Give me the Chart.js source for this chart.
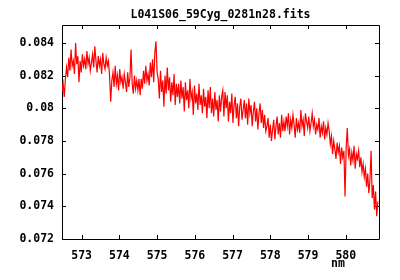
<!DOCTYPE html>
<html>
<head>
<meta charset="utf-8">
<script src="https://cdn.jsdelivr.net/npm/chart.js@4.4.1/dist/chart.umd.min.js"></script>
<style>
html,body{margin:0;padding:0;background:#fff;}
#wrap{width:400px;height:280px;position:relative;}
</style>
</head>
<body>
<div id="wrap"><canvas id="c" width="400" height="280"></canvas></div>
<script>
const TITLE = 'L041S06_59Cyg_0281n28.fits';
const X_LABEL = 'nm';
const WAVE_START = 572.48;
const WAVE_STEP = 0.03;
const X_MIN = 572.48, X_MAX = 580.88;
const Y_MIN = 0.072, Y_MAX = 0.0851;
const X_TICKS = [573, 574, 575, 576, 577, 578, 579, 580];
const X_TICK_LABELS = ['573', '574', '575', '576', '577', '578', '579', '580'];
const Y_TICKS = [0.072, 0.074, 0.076, 0.078, 0.080, 0.082, 0.084];
const Y_TICK_LABELS = ['0.072', '0.074', '0.076', '0.078', '0.08', '0.082', '0.084'];

const FLUX = [
  0.0810, 0.0815, 0.0807, 0.0818,
  0.0825, 0.0819, 0.0831, 0.0823, 0.0836, 0.0826, 0.0829, 0.0821, 0.0840, 0.0827, 0.0832, 0.0816,
  0.0829, 0.0822, 0.0833, 0.0826, 0.0830, 0.0824, 0.0835, 0.0827, 0.0831, 0.0823, 0.0828, 0.0833, 0.0825, 0.0838, 0.0829, 0.0822, 0.0832, 0.0826, 0.0830, 0.0821, 0.0834, 0.0827, 0.0824, 0.0831, 0.0826, 0.0829, 0.0820,
  0.0804, 0.0817, 0.0822, 0.0813, 0.0826, 0.0815, 0.0820, 0.0811, 0.0824, 0.0816, 0.0819, 0.0812, 0.0821,
  0.0816, 0.0810, 0.0822, 0.0813, 0.0819, 0.0836, 0.0815, 0.0809, 0.0820, 0.0812, 0.0817, 0.0811, 0.0818, 0.0808,
  0.0818, 0.0812, 0.0823, 0.0815, 0.0826, 0.0817, 0.0821, 0.0814, 0.0828, 0.0819, 0.0830, 0.0816, 0.0834, 0.0841, 0.0822,
  0.0818, 0.0806, 0.0823, 0.0810, 0.0817, 0.0801, 0.0820, 0.0809, 0.0825, 0.0811, 0.0819, 0.0804, 0.0816, 0.0808, 0.0821, 0.0802, 0.0815, 0.0807,
  0.0815, 0.0803, 0.0817, 0.0806, 0.0813, 0.0798, 0.0816, 0.0805, 0.0811, 0.0800, 0.0818, 0.0806, 0.0810, 0.0796, 0.0814, 0.0803, 0.0809, 0.0799, 0.0815, 0.0802, 0.0808, 0.0797, 0.0812, 0.0801, 0.0807, 0.0794, 0.0811, 0.0800, 0.0813, 0.0797, 0.0806, 0.0795, 0.0810, 0.0799, 0.0805, 0.0792, 0.0808, 0.0798,
  0.0807, 0.0811, 0.0795, 0.0810, 0.0800, 0.0808, 0.0792, 0.0804, 0.0797, 0.0809, 0.0791, 0.0802, 0.0807, 0.0794, 0.0803, 0.0789, 0.0801, 0.0806, 0.0793, 0.0799,
  0.0805, 0.0794, 0.0803, 0.0790, 0.0806, 0.0797, 0.0802, 0.0789, 0.0798, 0.0804, 0.0792, 0.0800, 0.0787, 0.0797, 0.0803, 0.0791, 0.0799, 0.0788, 0.0796, 0.0786,
  0.0789, 0.0794, 0.0782, 0.0790, 0.0780, 0.0787, 0.0793, 0.0781, 0.0789, 0.0795, 0.0784, 0.0791, 0.0782, 0.0796, 0.0786,
  0.0792, 0.0786, 0.0795, 0.0789, 0.0797, 0.0784, 0.0793, 0.0788, 0.0796, 0.0790, 0.0782, 0.0794, 0.0787, 0.0791, 0.0785, 0.0799, 0.0789, 0.0793, 0.0783, 0.0797,
  0.0792, 0.0788, 0.0795, 0.0786, 0.0791, 0.0797, 0.0789, 0.0793, 0.0784, 0.0790, 0.0787, 0.0794, 0.0782, 0.0789, 0.0785, 0.0792, 0.0781, 0.0788, 0.0784, 0.0791,
  0.0786, 0.0778, 0.0783, 0.0772, 0.0780, 0.0775, 0.0769, 0.0779, 0.0773, 0.0777, 0.0766, 0.0776, 0.0770, 0.0774, 0.0746,
  0.0776, 0.0788, 0.0771, 0.0775, 0.0765, 0.0773, 0.0768, 0.0777, 0.0763, 0.0772, 0.0769, 0.0774, 0.0764, 0.0770, 0.0761,
  0.0766, 0.0758, 0.0763, 0.0752, 0.0760, 0.0748, 0.0756, 0.0774, 0.0745, 0.0753, 0.0738, 0.0749, 0.0734, 0.0743
];

const FONT = 'bold 11.5px "DejaVu Sans Mono", monospace';
const TICK_FONT = { family: '"DejaVu Sans Mono", monospace', weight: 'bold', size: 11.5 };
const points = FLUX.map((v, i) => ({ x: WAVE_START + i * WAVE_STEP, y: v }));

const framePlugin = {
  id: 'frame',
  beforeDatasetsDraw(chart) {
    const { ctx, chartArea: a, scales } = chart;
    ctx.save();
    ctx.strokeStyle = '#000';
    ctx.lineWidth = 1;
    ctx.beginPath();
    ctx.rect(Math.round(a.left) + 0.5, Math.round(a.top) + 0.5, Math.round(a.right - a.left), Math.round(a.bottom - a.top));
    const T = 4;
    Y_TICKS.forEach(v => {
      const y = Math.round(scales.y.getPixelForValue(v)) + 0.5;
      ctx.moveTo(a.left, y); ctx.lineTo(a.left + T, y);
      ctx.moveTo(a.right, y); ctx.lineTo(a.right - T, y);
    });
    X_TICKS.forEach(v => {
      const x = Math.round(scales.x.getPixelForValue(v)) + 0.5;
      ctx.moveTo(x, a.bottom); ctx.lineTo(x, a.bottom - T);
      ctx.moveTo(x, a.top); ctx.lineTo(x, a.top + T);
    });
    ctx.stroke();
    ctx.restore();
  },
  afterDraw(chart) {
    const { ctx, chartArea: a } = chart;
    ctx.save();
    ctx.fillStyle = '#000';
    ctx.font = FONT;
    ctx.textAlign = 'center';
    ctx.textBaseline = 'alphabetic';
    ctx.fillText(TITLE, (a.left + a.right) / 2, 18);
    ctx.fillText(X_LABEL, 338, 267);
    ctx.restore();
  }
};

new Chart(document.getElementById('c'), {
  type: 'line',
  data: {
    datasets: [{
      data: points,
      borderColor: '#ff0000',
      borderWidth: 1.2,
      pointRadius: 0,
      tension: 0,
      fill: false
    }]
  },
  options: {
    responsive: false,
    animation: false,
    devicePixelRatio: 1,
    layout: { padding: { top: 25, right: 21, left: 0, bottom: 0 } },
    plugins: { legend: { display: false }, tooltip: { enabled: false }, title: { display: false } },
    scales: {
      x: {
        type: 'linear', min: X_MIN, max: X_MAX,
        grid: { display: false, drawTicks: false }, border: { display: false },
        afterBuildTicks: s => { s.ticks = X_TICKS.map(v => ({ value: v })); },
        afterFit: s => { s.height = 41; },
        ticks: {
          color: '#000', font: TICK_FONT,
          padding: 10, maxRotation: 0, autoSkip: false,
          callback: (v, i) => X_TICK_LABELS[i]
        }
      },
      y: {
        type: 'linear', min: Y_MIN, max: Y_MAX,
        grid: { display: false, drawTicks: false }, border: { display: false },
        afterBuildTicks: s => { s.ticks = Y_TICKS.map(v => ({ value: v })); },
        afterFit: s => { s.width = 62; },
        ticks: {
          color: '#000', font: TICK_FONT,
          padding: 8, autoSkip: false,
          callback: (v, i) => Y_TICK_LABELS[i]
        }
      }
    }
  },
  plugins: [framePlugin]
});
</script>
</body>
</html>
